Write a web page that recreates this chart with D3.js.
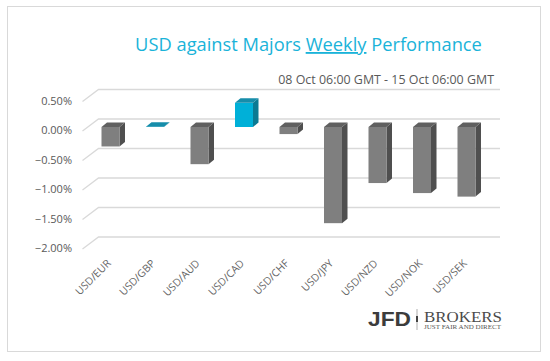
<!DOCTYPE html>
<html><head><meta charset="utf-8">
<script src="https://cdn.jsdelivr.net/npm/d3@7/dist/d3.min.js"></script>
<style>
body{margin:0;background:#fff;}
svg{display:block;font-family:"Open Sans","Noto Sans",sans-serif;}
</style></head>
<body>
<svg id="c" width="550" height="361"></svg>
<script>
const categories = ["USD/EUR","USD/GBP","USD/AUD","USD/CAD","USD/CHF","USD/JPY","USD/NZD","USD/NOK","USD/SEK"];
const values = [-0.33, 0.005, -0.63, 0.41, -0.12, -1.63, -0.95, -1.12, -1.18];
const yTicks = [0.5, 0, -0.5, -1.0, -1.5, -2.0];
const titleText = "USD against Majors ";
const titleUnder = "Weekly";
const titleEnd = " Performance";
const subtitle = "08 Oct 06:00 GMT - 15 Oct 06:00 GMT";

const svg = d3.select("#c");
// outer border
svg.append("rect").attr("x",7.5).attr("y",6.5).attr("width",533).attr("height",345)
  .attr("fill","#fff").attr("stroke","#d9d9d9").attr("stroke-width",1);

// scales
const yBack = d3.scaleLinear().domain([-2,0.5]).range([237,89.5]);
const frontShift = 8;           // bar front plane offset below back wall
const yF = v => yBack(v) + frontShift;
const x = d3.scaleBand().domain(categories).range([88.25,488.75]).padding(0);
const bw = 18, dx = 5.5, dy = -4.5;

// gridlines (3D floor/back wall)
const g = svg.append("g");
yTicks.forEach(t=>{
  const yb = yBack(t);
  g.append("path").attr("d",`M82.5,${yb+12}L98.5,${yb}L500,${yb}`)
    .attr("fill","none").attr("stroke","#d9d9d9").attr("stroke-width",1.3);
  g.append("text").attr("x",72).attr("y",yb+12.5).attr("text-anchor","end")
    .attr("dominant-baseline","middle").attr("font-size",11).attr("fill","#595959")
    .text(d3.format(".2f")(t)+"%");
});

// bars
const bars = svg.append("g");
categories.forEach((c,i)=>{
  const v = values[i];
  const pos = v>=0;
  const x0 = x(c)+x.bandwidth()/2 - bw/2;
  const yt = yF(Math.max(v,0)), yb = yF(Math.min(v,0));
  const front = pos ? "#00b0d8" : "#7f7f7f";
  const top = pos ? "#168daa" : "#606060";
  const side = pos ? "#0b7a93" : "#4f4f4f";
  bars.append("path").attr("d",`M${x0+bw},${yt}L${x0+bw+dx},${yt+dy}L${x0+bw+dx},${yb+dy}L${x0+bw},${yb}Z`).attr("fill",side);
  bars.append("rect").attr("x",x0).attr("y",yt).attr("width",bw).attr("height",Math.max(0,yb-yt)).attr("fill",front);
  bars.append("path").attr("d",`M${x0},${yt}L${x0+dx},${yt+dy}L${x0+bw+dx},${yt+dy}L${x0+bw},${yt}Z`).attr("fill",top);
});

// x labels
categories.forEach(c=>{
  const cx = x(c)+x.bandwidth()/2;
  svg.append("text").attr("transform",`translate(${cx+1},${264}) rotate(-45)`)
    .attr("text-anchor","end").attr("font-size",10.5).attr("fill","#666").text(c);
});

// title
const title = svg.append("text").attr("x",308.5).attr("y",51).attr("text-anchor","middle")
  .attr("font-size",18).attr("fill","#1ab3d9");
title.append("tspan").text(titleText);
title.append("tspan").attr("text-decoration","underline").text(titleUnder);
title.append("tspan").text(titleEnd);
let tw = title.node().getComputedTextLength();
title.attr("font-size",18*347/tw);

const sub = svg.append("text").attr("x",494).attr("y",84).attr("text-anchor","end")
  .attr("font-size",12).attr("fill","#595959").text(subtitle);
let sw = sub.node().getComputedTextLength();
sub.attr("font-size",12*216/sw);

// logo
const logo = svg.append("g");
logo.append("text").attr("x",368).attr("y",326).attr("font-size",21).attr("font-weight","bold")
  .attr("font-family","'Liberation Sans',Arial,sans-serif").attr("fill","#3c3c3c")
  .attr("textLength",43).attr("lengthAdjust","spacingAndGlyphs").text("JFD");
logo.append("line").attr("x1",417).attr("x2",417).attr("y1",309).attr("y2",330).attr("stroke","#777").attr("stroke-width",0.6);
logo.append("rect").attr("x",416).attr("y",316).attr("width",2).attr("height",6).attr("fill","#444");
logo.append("text").attr("x",424).attr("y",321.5).attr("font-size",14.5)
  .attr("font-family","'Liberation Serif','DejaVu Serif',serif").attr("fill","#4a4a4a")
  .attr("textLength",78).attr("lengthAdjust","spacingAndGlyphs").text("BROKERS");
logo.append("text").attr("x",424).attr("y",329).attr("font-size",5.2)
  .attr("font-family","'Liberation Serif','DejaVu Serif',serif").attr("fill","#555")
  .attr("textLength",77).attr("lengthAdjust","spacingAndGlyphs").text("JUST FAIR AND DIRECT");
</script>
</body></html>
